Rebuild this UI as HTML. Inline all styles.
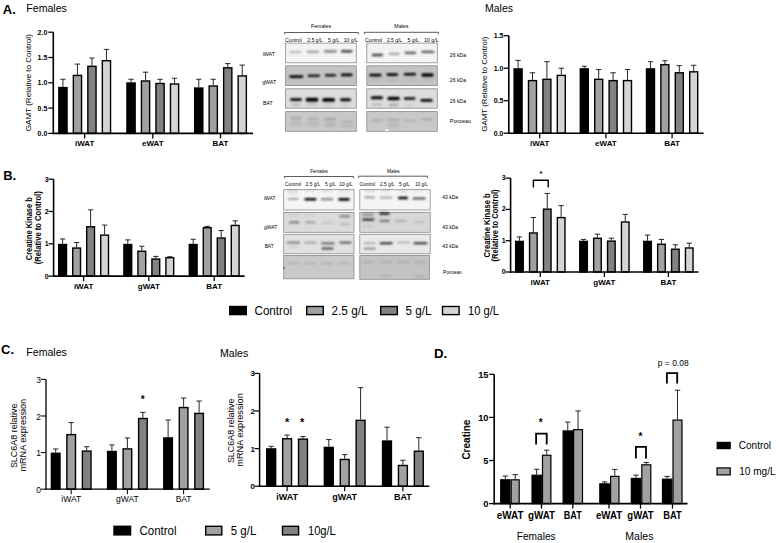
<!DOCTYPE html>
<html><head><meta charset="utf-8"><style>
html,body{margin:0;padding:0;background:#fff;width:779px;height:543px;overflow:hidden;}
body{position:relative;font-family:"Liberation Sans", sans-serif;}
</style></head><body>
<svg width="779" height="543" viewBox="0 0 779 543" style="position:absolute;left:0;top:0">
<defs><filter id="bl" x="-50%" y="-400%" width="200%" height="900%"><feGaussianBlur stdDeviation="1.0"/></filter><filter id="bl2" x="-50%" y="-400%" width="200%" height="900%"><feGaussianBlur stdDeviation="1.4"/></filter></defs>
<g font-family='"Liberation Sans", sans-serif'>
<text x="2.8" y="13.9" font-size="13" font-weight="bold" text-anchor="start" fill="#000">A.</text>
<text x="26.3" y="11.9" font-size="10.4" text-anchor="start" textLength="40.6" lengthAdjust="spacingAndGlyphs" fill="#000">Females</text>
<text x="485" y="11.8" font-size="10.5" text-anchor="start" textLength="28" lengthAdjust="spacingAndGlyphs" fill="#000">Males</text>
<line x1="62.95" y1="86.85" x2="62.95" y2="79.26" stroke="#111" stroke-width="0.90"/>
<line x1="60.30" y1="79.26" x2="65.60" y2="79.26" stroke="#111" stroke-width="0.90"/>
<rect x="58.85" y="87.55" width="8.20" height="45.85" fill="#000" stroke="#000" stroke-width="1.4"/>
<line x1="77.45" y1="74.70" x2="77.45" y2="64.08" stroke="#111" stroke-width="0.90"/>
<line x1="74.80" y1="64.08" x2="80.10" y2="64.08" stroke="#111" stroke-width="0.90"/>
<rect x="73.35" y="75.40" width="8.20" height="58.00" fill="#a0a0a5" stroke="#000" stroke-width="1.4"/>
<line x1="91.95" y1="65.60" x2="91.95" y2="58.01" stroke="#111" stroke-width="0.90"/>
<line x1="89.30" y1="58.01" x2="94.60" y2="58.01" stroke="#111" stroke-width="0.90"/>
<rect x="87.85" y="66.30" width="8.20" height="67.10" fill="#828282" stroke="#000" stroke-width="1.4"/>
<line x1="106.45" y1="60.03" x2="106.45" y2="49.40" stroke="#111" stroke-width="0.90"/>
<line x1="103.80" y1="49.40" x2="109.10" y2="49.40" stroke="#111" stroke-width="0.90"/>
<rect x="102.35" y="60.73" width="8.20" height="72.67" fill="#d4d4d4" stroke="#000" stroke-width="1.4"/>
<line x1="131.05" y1="82.29" x2="131.05" y2="79.26" stroke="#111" stroke-width="0.90"/>
<line x1="128.40" y1="79.26" x2="133.70" y2="79.26" stroke="#111" stroke-width="0.90"/>
<rect x="126.95" y="82.99" width="8.20" height="50.41" fill="#000" stroke="#000" stroke-width="1.4"/>
<line x1="145.55" y1="80.27" x2="145.55" y2="72.17" stroke="#111" stroke-width="0.90"/>
<line x1="142.90" y1="72.17" x2="148.20" y2="72.17" stroke="#111" stroke-width="0.90"/>
<rect x="141.45" y="80.97" width="8.20" height="52.43" fill="#a0a0a5" stroke="#000" stroke-width="1.4"/>
<line x1="160.05" y1="82.80" x2="160.05" y2="79.26" stroke="#111" stroke-width="0.90"/>
<line x1="157.40" y1="79.26" x2="162.70" y2="79.26" stroke="#111" stroke-width="0.90"/>
<rect x="155.95" y="83.50" width="8.20" height="49.90" fill="#828282" stroke="#000" stroke-width="1.4"/>
<line x1="174.55" y1="83.31" x2="174.55" y2="78.25" stroke="#111" stroke-width="0.90"/>
<line x1="171.90" y1="78.25" x2="177.20" y2="78.25" stroke="#111" stroke-width="0.90"/>
<rect x="170.45" y="84.01" width="8.20" height="49.39" fill="#d4d4d4" stroke="#000" stroke-width="1.4"/>
<line x1="198.75" y1="87.35" x2="198.75" y2="79.26" stroke="#111" stroke-width="0.90"/>
<line x1="196.10" y1="79.26" x2="201.40" y2="79.26" stroke="#111" stroke-width="0.90"/>
<rect x="194.65" y="88.05" width="8.20" height="45.35" fill="#000" stroke="#000" stroke-width="1.4"/>
<line x1="213.25" y1="85.33" x2="213.25" y2="79.26" stroke="#111" stroke-width="0.90"/>
<line x1="210.60" y1="79.26" x2="215.90" y2="79.26" stroke="#111" stroke-width="0.90"/>
<rect x="209.15" y="86.03" width="8.20" height="47.37" fill="#a0a0a5" stroke="#000" stroke-width="1.4"/>
<line x1="227.75" y1="67.11" x2="227.75" y2="63.57" stroke="#111" stroke-width="0.90"/>
<line x1="225.10" y1="63.57" x2="230.40" y2="63.57" stroke="#111" stroke-width="0.90"/>
<rect x="223.65" y="67.81" width="8.20" height="65.59" fill="#828282" stroke="#000" stroke-width="1.4"/>
<line x1="242.25" y1="75.21" x2="242.25" y2="65.09" stroke="#111" stroke-width="0.90"/>
<line x1="239.60" y1="65.09" x2="244.90" y2="65.09" stroke="#111" stroke-width="0.90"/>
<rect x="238.15" y="75.91" width="8.20" height="57.49" fill="#d4d4d4" stroke="#000" stroke-width="1.4"/>
<line x1="53.30" y1="32.20" x2="53.30" y2="134.20" stroke="#000" stroke-width="1.60"/>
<line x1="52.50" y1="133.40" x2="253.00" y2="133.40" stroke="#000" stroke-width="1.60"/>
<line x1="48.30" y1="133.40" x2="53.30" y2="133.40" stroke="#000" stroke-width="1.28"/>
<text x="47.3" y="135.9" font-size="7" font-weight="bold" text-anchor="end" fill="#000">0.0</text>
<line x1="48.30" y1="108.10" x2="53.30" y2="108.10" stroke="#000" stroke-width="1.28"/>
<text x="47.3" y="110.6" font-size="7" font-weight="bold" text-anchor="end" fill="#000">0.5</text>
<line x1="48.30" y1="82.80" x2="53.30" y2="82.80" stroke="#000" stroke-width="1.28"/>
<text x="47.3" y="85.3" font-size="7" font-weight="bold" text-anchor="end" fill="#000">1.0</text>
<line x1="48.30" y1="57.50" x2="53.30" y2="57.50" stroke="#000" stroke-width="1.28"/>
<text x="47.3" y="60.0" font-size="7" font-weight="bold" text-anchor="end" fill="#000">1.5</text>
<line x1="48.30" y1="32.20" x2="53.30" y2="32.20" stroke="#000" stroke-width="1.28"/>
<text x="47.3" y="34.7" font-size="7" font-weight="bold" text-anchor="end" fill="#000">2.0</text>
<line x1="84.70" y1="133.40" x2="84.70" y2="138.40" stroke="#000" stroke-width="1.28"/>
<text x="84.7" y="145.7" font-size="8" font-weight="bold" text-anchor="middle" fill="#000">iWAT</text>
<line x1="152.80" y1="133.40" x2="152.80" y2="138.40" stroke="#000" stroke-width="1.28"/>
<text x="152.8" y="145.7" font-size="8" font-weight="bold" text-anchor="middle" fill="#000">eWAT</text>
<line x1="220.50" y1="133.40" x2="220.50" y2="138.40" stroke="#000" stroke-width="1.28"/>
<text x="220.5" y="145.7" font-size="8" font-weight="bold" text-anchor="middle" fill="#000">BAT</text>
<text transform="translate(30.6,82.7) rotate(-90)" x="0" y="0" font-size="7.5" text-anchor="middle" textLength="97" lengthAdjust="spacingAndGlyphs" fill="#000">GAMT (Relative to Control)</text>
<line x1="518.10" y1="68.20" x2="518.10" y2="60.40" stroke="#111" stroke-width="0.90"/>
<line x1="515.45" y1="60.40" x2="520.75" y2="60.40" stroke="#111" stroke-width="0.90"/>
<rect x="514.10" y="68.90" width="8.00" height="64.30" fill="#000" stroke="#000" stroke-width="1.4"/>
<line x1="532.50" y1="79.90" x2="532.50" y2="72.75" stroke="#111" stroke-width="0.90"/>
<line x1="529.85" y1="72.75" x2="535.15" y2="72.75" stroke="#111" stroke-width="0.90"/>
<rect x="528.50" y="80.60" width="8.00" height="52.60" fill="#a0a0a5" stroke="#000" stroke-width="1.4"/>
<line x1="546.90" y1="78.60" x2="546.90" y2="61.70" stroke="#111" stroke-width="0.90"/>
<line x1="544.25" y1="61.70" x2="549.55" y2="61.70" stroke="#111" stroke-width="0.90"/>
<rect x="542.90" y="79.30" width="8.00" height="53.90" fill="#828282" stroke="#000" stroke-width="1.4"/>
<line x1="561.30" y1="74.70" x2="561.30" y2="68.20" stroke="#111" stroke-width="0.90"/>
<line x1="558.65" y1="68.20" x2="563.95" y2="68.20" stroke="#111" stroke-width="0.90"/>
<rect x="557.30" y="75.40" width="8.00" height="57.80" fill="#d4d4d4" stroke="#000" stroke-width="1.4"/>
<line x1="584.30" y1="68.20" x2="584.30" y2="66.25" stroke="#111" stroke-width="0.90"/>
<line x1="581.65" y1="66.25" x2="586.95" y2="66.25" stroke="#111" stroke-width="0.90"/>
<rect x="580.30" y="68.90" width="8.00" height="64.30" fill="#000" stroke="#000" stroke-width="1.4"/>
<line x1="598.70" y1="78.60" x2="598.70" y2="69.50" stroke="#111" stroke-width="0.90"/>
<line x1="596.05" y1="69.50" x2="601.35" y2="69.50" stroke="#111" stroke-width="0.90"/>
<rect x="594.70" y="79.30" width="8.00" height="53.90" fill="#a0a0a5" stroke="#000" stroke-width="1.4"/>
<line x1="613.10" y1="79.90" x2="613.10" y2="72.75" stroke="#111" stroke-width="0.90"/>
<line x1="610.45" y1="72.75" x2="615.75" y2="72.75" stroke="#111" stroke-width="0.90"/>
<rect x="609.10" y="80.60" width="8.00" height="52.60" fill="#828282" stroke="#000" stroke-width="1.4"/>
<line x1="627.50" y1="79.90" x2="627.50" y2="69.50" stroke="#111" stroke-width="0.90"/>
<line x1="624.85" y1="69.50" x2="630.15" y2="69.50" stroke="#111" stroke-width="0.90"/>
<rect x="623.50" y="80.60" width="8.00" height="52.60" fill="#d4d4d4" stroke="#000" stroke-width="1.4"/>
<line x1="650.50" y1="68.20" x2="650.50" y2="61.70" stroke="#111" stroke-width="0.90"/>
<line x1="647.85" y1="61.70" x2="653.15" y2="61.70" stroke="#111" stroke-width="0.90"/>
<rect x="646.50" y="68.90" width="8.00" height="64.30" fill="#000" stroke="#000" stroke-width="1.4"/>
<line x1="664.90" y1="63.97" x2="664.90" y2="60.72" stroke="#111" stroke-width="0.90"/>
<line x1="662.25" y1="60.72" x2="667.55" y2="60.72" stroke="#111" stroke-width="0.90"/>
<rect x="660.90" y="64.67" width="8.00" height="68.52" fill="#a0a0a5" stroke="#000" stroke-width="1.4"/>
<line x1="679.30" y1="72.10" x2="679.30" y2="65.60" stroke="#111" stroke-width="0.90"/>
<line x1="676.65" y1="65.60" x2="681.95" y2="65.60" stroke="#111" stroke-width="0.90"/>
<rect x="675.30" y="72.80" width="8.00" height="60.40" fill="#828282" stroke="#000" stroke-width="1.4"/>
<line x1="693.70" y1="71.12" x2="693.70" y2="65.27" stroke="#111" stroke-width="0.90"/>
<line x1="691.05" y1="65.27" x2="696.35" y2="65.27" stroke="#111" stroke-width="0.90"/>
<rect x="689.70" y="71.83" width="8.00" height="61.37" fill="#d4d4d4" stroke="#000" stroke-width="1.4"/>
<line x1="508.80" y1="35.70" x2="508.80" y2="134.00" stroke="#000" stroke-width="1.60"/>
<line x1="508.00" y1="133.20" x2="703.60" y2="133.20" stroke="#000" stroke-width="1.60"/>
<line x1="503.80" y1="133.20" x2="508.80" y2="133.20" stroke="#000" stroke-width="1.28"/>
<text x="503.5" y="135.7" font-size="7" font-weight="bold" text-anchor="end" fill="#000">0.0</text>
<line x1="503.80" y1="100.70" x2="508.80" y2="100.70" stroke="#000" stroke-width="1.28"/>
<text x="503.5" y="103.2" font-size="7" font-weight="bold" text-anchor="end" fill="#000">0.5</text>
<line x1="503.80" y1="68.20" x2="508.80" y2="68.20" stroke="#000" stroke-width="1.28"/>
<text x="503.5" y="70.7" font-size="7" font-weight="bold" text-anchor="end" fill="#000">1.0</text>
<line x1="503.80" y1="35.70" x2="508.80" y2="35.70" stroke="#000" stroke-width="1.28"/>
<text x="503.5" y="38.2" font-size="7" font-weight="bold" text-anchor="end" fill="#000">1.5</text>
<line x1="539.70" y1="133.20" x2="539.70" y2="138.20" stroke="#000" stroke-width="1.28"/>
<text x="539.7" y="145.7" font-size="8" font-weight="bold" text-anchor="middle" fill="#000">iWAT</text>
<line x1="605.90" y1="133.20" x2="605.90" y2="138.20" stroke="#000" stroke-width="1.28"/>
<text x="605.9" y="145.7" font-size="8" font-weight="bold" text-anchor="middle" fill="#000">eWAT</text>
<line x1="672.10" y1="133.20" x2="672.10" y2="138.20" stroke="#000" stroke-width="1.28"/>
<text x="672.1" y="145.7" font-size="8" font-weight="bold" text-anchor="middle" fill="#000">BAT</text>
<text transform="translate(486.5,84.2) rotate(-90)" x="0" y="0" font-size="7.5" text-anchor="middle" textLength="95" lengthAdjust="spacingAndGlyphs" fill="#000">GAMT (Relative to Control)</text>
<text x="3.2" y="180.4" font-size="13" font-weight="bold" text-anchor="start" fill="#000">B.</text>
<line x1="62.60" y1="243.80" x2="62.60" y2="238.96" stroke="#111" stroke-width="0.90"/>
<line x1="59.95" y1="238.96" x2="65.25" y2="238.96" stroke="#111" stroke-width="0.90"/>
<rect x="58.70" y="244.50" width="7.80" height="31.60" fill="#000" stroke="#000" stroke-width="1.4"/>
<line x1="76.60" y1="247.35" x2="76.60" y2="242.51" stroke="#111" stroke-width="0.90"/>
<line x1="73.95" y1="242.51" x2="79.25" y2="242.51" stroke="#111" stroke-width="0.90"/>
<rect x="72.70" y="248.05" width="7.80" height="28.05" fill="#a0a0a5" stroke="#000" stroke-width="1.4"/>
<line x1="90.60" y1="226.04" x2="90.60" y2="209.89" stroke="#111" stroke-width="0.90"/>
<line x1="87.95" y1="209.89" x2="93.25" y2="209.89" stroke="#111" stroke-width="0.90"/>
<rect x="86.70" y="226.74" width="7.80" height="49.36" fill="#828282" stroke="#000" stroke-width="1.4"/>
<line x1="104.60" y1="234.43" x2="104.60" y2="225.07" stroke="#111" stroke-width="0.90"/>
<line x1="101.95" y1="225.07" x2="107.25" y2="225.07" stroke="#111" stroke-width="0.90"/>
<rect x="100.70" y="235.13" width="7.80" height="40.97" fill="#d4d4d4" stroke="#000" stroke-width="1.4"/>
<line x1="127.80" y1="243.80" x2="127.80" y2="239.92" stroke="#111" stroke-width="0.90"/>
<line x1="125.15" y1="239.92" x2="130.45" y2="239.92" stroke="#111" stroke-width="0.90"/>
<rect x="123.90" y="244.50" width="7.80" height="31.60" fill="#000" stroke="#000" stroke-width="1.4"/>
<line x1="141.80" y1="250.58" x2="141.80" y2="246.22" stroke="#111" stroke-width="0.90"/>
<line x1="139.15" y1="246.22" x2="144.45" y2="246.22" stroke="#111" stroke-width="0.90"/>
<rect x="137.90" y="251.28" width="7.80" height="24.82" fill="#a0a0a5" stroke="#000" stroke-width="1.4"/>
<line x1="155.80" y1="258.34" x2="155.80" y2="256.40" stroke="#111" stroke-width="0.90"/>
<line x1="153.15" y1="256.40" x2="158.45" y2="256.40" stroke="#111" stroke-width="0.90"/>
<rect x="151.90" y="259.04" width="7.80" height="17.06" fill="#828282" stroke="#000" stroke-width="1.4"/>
<line x1="169.80" y1="257.04" x2="169.80" y2="256.72" stroke="#111" stroke-width="0.90"/>
<line x1="167.15" y1="256.72" x2="172.45" y2="256.72" stroke="#111" stroke-width="0.90"/>
<rect x="165.90" y="257.74" width="7.80" height="18.36" fill="#d4d4d4" stroke="#000" stroke-width="1.4"/>
<line x1="193.20" y1="243.80" x2="193.20" y2="239.28" stroke="#111" stroke-width="0.90"/>
<line x1="190.55" y1="239.28" x2="195.85" y2="239.28" stroke="#111" stroke-width="0.90"/>
<rect x="189.30" y="244.50" width="7.80" height="31.60" fill="#000" stroke="#000" stroke-width="1.4"/>
<line x1="207.20" y1="227.00" x2="207.20" y2="226.36" stroke="#111" stroke-width="0.90"/>
<line x1="204.55" y1="226.36" x2="209.85" y2="226.36" stroke="#111" stroke-width="0.90"/>
<rect x="203.30" y="227.70" width="7.80" height="48.40" fill="#a0a0a5" stroke="#000" stroke-width="1.4"/>
<line x1="221.20" y1="237.34" x2="221.20" y2="230.56" stroke="#111" stroke-width="0.90"/>
<line x1="218.55" y1="230.56" x2="223.85" y2="230.56" stroke="#111" stroke-width="0.90"/>
<rect x="217.30" y="238.04" width="7.80" height="38.06" fill="#828282" stroke="#000" stroke-width="1.4"/>
<line x1="235.20" y1="224.74" x2="235.20" y2="220.87" stroke="#111" stroke-width="0.90"/>
<line x1="232.55" y1="220.87" x2="237.85" y2="220.87" stroke="#111" stroke-width="0.90"/>
<rect x="231.30" y="225.44" width="7.80" height="50.66" fill="#d4d4d4" stroke="#000" stroke-width="1.4"/>
<line x1="53.60" y1="179.20" x2="53.60" y2="276.90" stroke="#000" stroke-width="1.60"/>
<line x1="52.80" y1="276.10" x2="244.60" y2="276.10" stroke="#000" stroke-width="1.60"/>
<line x1="48.60" y1="276.10" x2="53.60" y2="276.10" stroke="#000" stroke-width="1.28"/>
<text x="48.7" y="278.6" font-size="7" font-weight="bold" text-anchor="end" fill="#000">0</text>
<line x1="48.60" y1="243.80" x2="53.60" y2="243.80" stroke="#000" stroke-width="1.28"/>
<text x="48.7" y="246.3" font-size="7" font-weight="bold" text-anchor="end" fill="#000">1</text>
<line x1="48.60" y1="211.50" x2="53.60" y2="211.50" stroke="#000" stroke-width="1.28"/>
<text x="48.7" y="214.0" font-size="7" font-weight="bold" text-anchor="end" fill="#000">2</text>
<line x1="48.60" y1="179.20" x2="53.60" y2="179.20" stroke="#000" stroke-width="1.28"/>
<text x="48.7" y="181.7" font-size="7" font-weight="bold" text-anchor="end" fill="#000">3</text>
<line x1="83.60" y1="276.10" x2="83.60" y2="281.10" stroke="#000" stroke-width="1.28"/>
<text x="83.6" y="288.5" font-size="8" font-weight="bold" text-anchor="middle" fill="#000">iWAT</text>
<line x1="148.80" y1="276.10" x2="148.80" y2="281.10" stroke="#000" stroke-width="1.28"/>
<text x="148.8" y="288.5" font-size="8" font-weight="bold" text-anchor="middle" fill="#000">gWAT</text>
<line x1="214.20" y1="276.10" x2="214.20" y2="281.10" stroke="#000" stroke-width="1.28"/>
<text x="214.2" y="288.5" font-size="8" font-weight="bold" text-anchor="middle" fill="#000">BAT</text>
<text transform="translate(31.9,228.7) rotate(-90)" x="0" y="0" font-size="8.3" font-weight="bold" text-anchor="middle" textLength="63" lengthAdjust="spacingAndGlyphs" fill="#000">Creatine Kinase b</text>
<text transform="translate(40.7,227.7) rotate(-90)" x="0" y="0" font-size="8.3" font-weight="bold" text-anchor="middle" textLength="73" lengthAdjust="spacingAndGlyphs" fill="#000">(Relative to Control)</text>
<line x1="519.45" y1="240.70" x2="519.45" y2="236.94" stroke="#111" stroke-width="0.90"/>
<line x1="516.80" y1="236.94" x2="522.10" y2="236.94" stroke="#111" stroke-width="0.90"/>
<rect x="515.65" y="241.40" width="7.60" height="30.60" fill="#000" stroke="#000" stroke-width="1.4"/>
<line x1="533.35" y1="232.25" x2="533.35" y2="217.54" stroke="#111" stroke-width="0.90"/>
<line x1="530.70" y1="217.54" x2="536.00" y2="217.54" stroke="#111" stroke-width="0.90"/>
<rect x="529.55" y="232.95" width="7.60" height="39.05" fill="#a0a0a5" stroke="#000" stroke-width="1.4"/>
<line x1="547.25" y1="208.46" x2="547.25" y2="193.44" stroke="#111" stroke-width="0.90"/>
<line x1="544.60" y1="193.44" x2="549.90" y2="193.44" stroke="#111" stroke-width="0.90"/>
<rect x="543.45" y="209.16" width="7.60" height="62.84" fill="#828282" stroke="#000" stroke-width="1.4"/>
<line x1="561.15" y1="216.91" x2="561.15" y2="205.64" stroke="#111" stroke-width="0.90"/>
<line x1="558.50" y1="205.64" x2="563.80" y2="205.64" stroke="#111" stroke-width="0.90"/>
<rect x="557.35" y="217.61" width="7.60" height="54.39" fill="#d4d4d4" stroke="#000" stroke-width="1.4"/>
<line x1="583.55" y1="240.70" x2="583.55" y2="239.45" stroke="#111" stroke-width="0.90"/>
<line x1="580.90" y1="239.45" x2="586.20" y2="239.45" stroke="#111" stroke-width="0.90"/>
<rect x="579.75" y="241.40" width="7.60" height="30.60" fill="#000" stroke="#000" stroke-width="1.4"/>
<line x1="597.45" y1="237.57" x2="597.45" y2="234.13" stroke="#111" stroke-width="0.90"/>
<line x1="594.80" y1="234.13" x2="600.10" y2="234.13" stroke="#111" stroke-width="0.90"/>
<rect x="593.65" y="238.27" width="7.60" height="33.73" fill="#a0a0a5" stroke="#000" stroke-width="1.4"/>
<line x1="611.35" y1="240.39" x2="611.35" y2="238.20" stroke="#111" stroke-width="0.90"/>
<line x1="608.70" y1="238.20" x2="614.00" y2="238.20" stroke="#111" stroke-width="0.90"/>
<rect x="607.55" y="241.09" width="7.60" height="30.91" fill="#828282" stroke="#000" stroke-width="1.4"/>
<line x1="625.25" y1="221.29" x2="625.25" y2="214.41" stroke="#111" stroke-width="0.90"/>
<line x1="622.60" y1="214.41" x2="627.90" y2="214.41" stroke="#111" stroke-width="0.90"/>
<rect x="621.45" y="221.99" width="7.60" height="50.01" fill="#d4d4d4" stroke="#000" stroke-width="1.4"/>
<line x1="647.55" y1="240.70" x2="647.55" y2="235.07" stroke="#111" stroke-width="0.90"/>
<line x1="644.90" y1="235.07" x2="650.20" y2="235.07" stroke="#111" stroke-width="0.90"/>
<rect x="643.75" y="241.40" width="7.60" height="30.60" fill="#000" stroke="#000" stroke-width="1.4"/>
<line x1="661.45" y1="243.52" x2="661.45" y2="239.45" stroke="#111" stroke-width="0.90"/>
<line x1="658.80" y1="239.45" x2="664.10" y2="239.45" stroke="#111" stroke-width="0.90"/>
<rect x="657.65" y="244.22" width="7.60" height="27.78" fill="#a0a0a5" stroke="#000" stroke-width="1.4"/>
<line x1="675.35" y1="248.53" x2="675.35" y2="244.77" stroke="#111" stroke-width="0.90"/>
<line x1="672.70" y1="244.77" x2="678.00" y2="244.77" stroke="#111" stroke-width="0.90"/>
<rect x="671.55" y="249.22" width="7.60" height="22.77" fill="#828282" stroke="#000" stroke-width="1.4"/>
<line x1="689.25" y1="247.27" x2="689.25" y2="243.20" stroke="#111" stroke-width="0.90"/>
<line x1="686.60" y1="243.20" x2="691.90" y2="243.20" stroke="#111" stroke-width="0.90"/>
<rect x="685.45" y="247.97" width="7.60" height="24.03" fill="#d4d4d4" stroke="#000" stroke-width="1.4"/>
<line x1="510.60" y1="178.10" x2="510.60" y2="272.80" stroke="#000" stroke-width="1.60"/>
<line x1="509.80" y1="272.00" x2="698.60" y2="272.00" stroke="#000" stroke-width="1.60"/>
<line x1="505.60" y1="272.00" x2="510.60" y2="272.00" stroke="#000" stroke-width="1.28"/>
<text x="505.6" y="274.0" font-size="7" font-weight="bold" text-anchor="end" fill="#000">0</text>
<line x1="505.60" y1="240.70" x2="510.60" y2="240.70" stroke="#000" stroke-width="1.28"/>
<text x="505.6" y="242.7" font-size="7" font-weight="bold" text-anchor="end" fill="#000">1</text>
<line x1="505.60" y1="209.40" x2="510.60" y2="209.40" stroke="#000" stroke-width="1.28"/>
<text x="505.6" y="211.4" font-size="7" font-weight="bold" text-anchor="end" fill="#000">2</text>
<line x1="505.60" y1="178.10" x2="510.60" y2="178.10" stroke="#000" stroke-width="1.28"/>
<text x="505.6" y="180.1" font-size="7" font-weight="bold" text-anchor="end" fill="#000">3</text>
<line x1="540.30" y1="272.00" x2="540.30" y2="277.00" stroke="#000" stroke-width="1.28"/>
<text x="540.3" y="284.5" font-size="8" font-weight="bold" text-anchor="middle" fill="#000">iWAT</text>
<line x1="604.40" y1="272.00" x2="604.40" y2="277.00" stroke="#000" stroke-width="1.28"/>
<text x="604.4" y="284.5" font-size="8" font-weight="bold" text-anchor="middle" fill="#000">gWAT</text>
<line x1="668.40" y1="272.00" x2="668.40" y2="277.00" stroke="#000" stroke-width="1.28"/>
<text x="668.4" y="284.5" font-size="8" font-weight="bold" text-anchor="middle" fill="#000">BAT</text>
<text transform="translate(490.2,225.4) rotate(-90)" x="0" y="0" font-size="8.3" font-weight="bold" text-anchor="middle" textLength="64" lengthAdjust="spacingAndGlyphs" fill="#000">Creatine Kinase b</text>
<text transform="translate(498.2,225.4) rotate(-90)" x="0" y="0" font-size="8.3" font-weight="bold" text-anchor="middle" textLength="72" lengthAdjust="spacingAndGlyphs" fill="#000">(Relative to Control)</text>
<path d="M533.4 187.6 V180.3 H548.2 V187.6" fill="none" stroke="#000" stroke-width="1.4"/>
<text x="541" y="176.2" font-size="7.5" font-weight="bold" text-anchor="middle" fill="#000">*</text>
<rect x="229.70" y="306.50" width="16.60" height="8.10" fill="#000" stroke="#000" stroke-width="1.4"/>
<text x="254.5" y="315.2" font-size="12.5" text-anchor="start" textLength="37.5" lengthAdjust="spacingAndGlyphs" fill="#000">Control</text>
<rect x="306.70" y="306.50" width="16.60" height="8.10" fill="#a0a0a5" stroke="#000" stroke-width="1.4"/>
<text x="331.5" y="315.2" font-size="12.5" text-anchor="start" textLength="36" lengthAdjust="spacingAndGlyphs" fill="#000">2.5 g/L</text>
<rect x="380.70" y="306.50" width="16.60" height="8.10" fill="#828282" stroke="#000" stroke-width="1.4"/>
<text x="405.5" y="315.2" font-size="12.5" text-anchor="start" textLength="26" lengthAdjust="spacingAndGlyphs" fill="#000">5 g/L</text>
<rect x="442.50" y="306.50" width="16.60" height="8.10" fill="#d4d4d4" stroke="#000" stroke-width="1.4"/>
<text x="468" y="315.2" font-size="12.5" text-anchor="start" textLength="31" lengthAdjust="spacingAndGlyphs" fill="#000">10 g/L</text>
<text x="1.0" y="354.4" font-size="13" font-weight="bold" text-anchor="start" fill="#000">C.</text>
<text x="26.3" y="355.7" font-size="10.5" text-anchor="start" textLength="40.6" lengthAdjust="spacingAndGlyphs" fill="#000">Females</text>
<text x="220" y="357" font-size="10.5" text-anchor="start" textLength="28.2" lengthAdjust="spacingAndGlyphs" fill="#000">Males</text>
<line x1="55.70" y1="452.60" x2="55.70" y2="448.94" stroke="#111" stroke-width="0.90"/>
<line x1="53.05" y1="448.94" x2="58.35" y2="448.94" stroke="#111" stroke-width="0.90"/>
<rect x="51.40" y="453.30" width="8.60" height="35.90" fill="#000" stroke="#000" stroke-width="1.4"/>
<line x1="71.20" y1="433.93" x2="71.20" y2="422.59" stroke="#111" stroke-width="0.90"/>
<line x1="68.55" y1="422.59" x2="73.85" y2="422.59" stroke="#111" stroke-width="0.90"/>
<rect x="66.90" y="434.63" width="8.60" height="54.57" fill="#a0a0a5" stroke="#000" stroke-width="1.4"/>
<line x1="86.70" y1="450.40" x2="86.70" y2="446.74" stroke="#111" stroke-width="0.90"/>
<line x1="84.05" y1="446.74" x2="89.35" y2="446.74" stroke="#111" stroke-width="0.90"/>
<rect x="82.40" y="451.10" width="8.60" height="38.10" fill="#828282" stroke="#000" stroke-width="1.4"/>
<line x1="111.90" y1="450.77" x2="111.90" y2="444.91" stroke="#111" stroke-width="0.90"/>
<line x1="109.25" y1="444.91" x2="114.55" y2="444.91" stroke="#111" stroke-width="0.90"/>
<rect x="107.60" y="451.47" width="8.60" height="37.73" fill="#000" stroke="#000" stroke-width="1.4"/>
<line x1="127.40" y1="448.21" x2="127.40" y2="437.96" stroke="#111" stroke-width="0.90"/>
<line x1="124.75" y1="437.96" x2="130.05" y2="437.96" stroke="#111" stroke-width="0.90"/>
<rect x="123.10" y="448.91" width="8.60" height="40.29" fill="#a0a0a5" stroke="#000" stroke-width="1.4"/>
<line x1="142.90" y1="417.83" x2="142.90" y2="412.34" stroke="#111" stroke-width="0.90"/>
<line x1="140.25" y1="412.34" x2="145.55" y2="412.34" stroke="#111" stroke-width="0.90"/>
<rect x="138.60" y="418.53" width="8.60" height="70.67" fill="#828282" stroke="#000" stroke-width="1.4"/>
<line x1="168.10" y1="437.23" x2="168.10" y2="420.03" stroke="#111" stroke-width="0.90"/>
<line x1="165.45" y1="420.03" x2="170.75" y2="420.03" stroke="#111" stroke-width="0.90"/>
<rect x="163.80" y="437.93" width="8.60" height="51.27" fill="#000" stroke="#000" stroke-width="1.4"/>
<line x1="183.60" y1="406.85" x2="183.60" y2="398.07" stroke="#111" stroke-width="0.90"/>
<line x1="180.95" y1="398.07" x2="186.25" y2="398.07" stroke="#111" stroke-width="0.90"/>
<rect x="179.30" y="407.55" width="8.60" height="81.65" fill="#a0a0a5" stroke="#000" stroke-width="1.4"/>
<line x1="199.10" y1="412.71" x2="199.10" y2="400.99" stroke="#111" stroke-width="0.90"/>
<line x1="196.45" y1="400.99" x2="201.75" y2="400.99" stroke="#111" stroke-width="0.90"/>
<rect x="194.80" y="413.41" width="8.60" height="75.79" fill="#828282" stroke="#000" stroke-width="1.4"/>
<line x1="46.00" y1="379.40" x2="46.00" y2="489.85" stroke="#000" stroke-width="1.30"/>
<line x1="45.35" y1="489.20" x2="209.80" y2="489.20" stroke="#000" stroke-width="1.30"/>
<line x1="41.00" y1="489.20" x2="46.00" y2="489.20" stroke="#000" stroke-width="1.04"/>
<text x="41.0" y="492.8" font-size="8.5" text-anchor="end" fill="#000">0</text>
<line x1="41.00" y1="452.60" x2="46.00" y2="452.60" stroke="#000" stroke-width="1.04"/>
<text x="41.0" y="456.2" font-size="8.5" text-anchor="end" fill="#000">1</text>
<line x1="41.00" y1="416.00" x2="46.00" y2="416.00" stroke="#000" stroke-width="1.04"/>
<text x="41.0" y="419.6" font-size="8.5" text-anchor="end" fill="#000">2</text>
<line x1="41.00" y1="379.40" x2="46.00" y2="379.40" stroke="#000" stroke-width="1.04"/>
<text x="41.0" y="383.0" font-size="8.5" text-anchor="end" fill="#000">3</text>
<line x1="71.20" y1="489.20" x2="71.20" y2="494.20" stroke="#000" stroke-width="1.04"/>
<text x="71.2" y="501.9" font-size="8.5" text-anchor="middle" fill="#000">iWAT</text>
<line x1="127.40" y1="489.20" x2="127.40" y2="494.20" stroke="#000" stroke-width="1.04"/>
<text x="127.4" y="501.9" font-size="8.5" text-anchor="middle" fill="#000">gWAT</text>
<line x1="183.60" y1="489.20" x2="183.60" y2="494.20" stroke="#000" stroke-width="1.04"/>
<text x="183.6" y="501.9" font-size="8.5" text-anchor="middle" fill="#000">BAT</text>
<text transform="translate(17.0,435.8) rotate(-90)" x="0" y="0" font-size="9" text-anchor="middle" textLength="64.6" lengthAdjust="spacingAndGlyphs" fill="#000">SLC6A8 relative</text>
<text transform="translate(26.2,435.2) rotate(-90)" x="0" y="0" font-size="9" text-anchor="middle" textLength="72.7" lengthAdjust="spacingAndGlyphs" fill="#000">mRNA expression</text>
<text x="142.7" y="402.6" font-size="10" font-weight="bold" text-anchor="middle" fill="#000">*</text>
<line x1="271.20" y1="448.22" x2="271.20" y2="446.34" stroke="#111" stroke-width="0.90"/>
<line x1="268.55" y1="446.34" x2="273.85" y2="446.34" stroke="#111" stroke-width="0.90"/>
<rect x="266.75" y="448.92" width="8.90" height="37.28" fill="#000" stroke="#000" stroke-width="1.4"/>
<line x1="287.10" y1="438.07" x2="287.10" y2="435.06" stroke="#111" stroke-width="0.90"/>
<line x1="284.45" y1="435.06" x2="289.75" y2="435.06" stroke="#111" stroke-width="0.90"/>
<rect x="282.65" y="438.77" width="8.90" height="47.43" fill="#a0a0a5" stroke="#000" stroke-width="1.4"/>
<line x1="303.00" y1="438.45" x2="303.00" y2="436.57" stroke="#111" stroke-width="0.90"/>
<line x1="300.35" y1="436.57" x2="305.65" y2="436.57" stroke="#111" stroke-width="0.90"/>
<rect x="298.55" y="439.15" width="8.90" height="47.05" fill="#828282" stroke="#000" stroke-width="1.4"/>
<line x1="328.80" y1="446.72" x2="328.80" y2="439.58" stroke="#111" stroke-width="0.90"/>
<line x1="326.15" y1="439.58" x2="331.45" y2="439.58" stroke="#111" stroke-width="0.90"/>
<rect x="324.35" y="447.42" width="8.90" height="38.78" fill="#000" stroke="#000" stroke-width="1.4"/>
<line x1="344.70" y1="458.75" x2="344.70" y2="454.62" stroke="#111" stroke-width="0.90"/>
<line x1="342.05" y1="454.62" x2="347.35" y2="454.62" stroke="#111" stroke-width="0.90"/>
<rect x="340.25" y="459.45" width="8.90" height="26.75" fill="#a0a0a5" stroke="#000" stroke-width="1.4"/>
<line x1="360.60" y1="419.65" x2="360.60" y2="387.69" stroke="#111" stroke-width="0.90"/>
<line x1="357.95" y1="387.69" x2="363.25" y2="387.69" stroke="#111" stroke-width="0.90"/>
<rect x="356.15" y="420.35" width="8.90" height="65.85" fill="#828282" stroke="#000" stroke-width="1.4"/>
<line x1="387.00" y1="440.33" x2="387.00" y2="427.17" stroke="#111" stroke-width="0.90"/>
<line x1="384.35" y1="427.17" x2="389.65" y2="427.17" stroke="#111" stroke-width="0.90"/>
<rect x="382.55" y="441.03" width="8.90" height="45.17" fill="#000" stroke="#000" stroke-width="1.4"/>
<line x1="402.90" y1="464.77" x2="402.90" y2="460.26" stroke="#111" stroke-width="0.90"/>
<line x1="400.25" y1="460.26" x2="405.55" y2="460.26" stroke="#111" stroke-width="0.90"/>
<rect x="398.45" y="465.47" width="8.90" height="20.73" fill="#a0a0a5" stroke="#000" stroke-width="1.4"/>
<line x1="418.80" y1="450.48" x2="418.80" y2="437.70" stroke="#111" stroke-width="0.90"/>
<line x1="416.15" y1="437.70" x2="421.45" y2="437.70" stroke="#111" stroke-width="0.90"/>
<rect x="414.35" y="451.18" width="8.90" height="35.02" fill="#828282" stroke="#000" stroke-width="1.4"/>
<line x1="259.60" y1="373.40" x2="259.60" y2="486.95" stroke="#000" stroke-width="1.50"/>
<line x1="258.85" y1="486.20" x2="429.40" y2="486.20" stroke="#000" stroke-width="1.50"/>
<line x1="254.60" y1="486.20" x2="259.60" y2="486.20" stroke="#000" stroke-width="1.20"/>
<text x="255" y="489.2" font-size="8" font-weight="bold" text-anchor="end" fill="#000">0</text>
<line x1="254.60" y1="448.60" x2="259.60" y2="448.60" stroke="#000" stroke-width="1.20"/>
<text x="255" y="451.6" font-size="8" font-weight="bold" text-anchor="end" fill="#000">1</text>
<line x1="254.60" y1="411.00" x2="259.60" y2="411.00" stroke="#000" stroke-width="1.20"/>
<text x="255" y="414.0" font-size="8" font-weight="bold" text-anchor="end" fill="#000">2</text>
<line x1="254.60" y1="373.40" x2="259.60" y2="373.40" stroke="#000" stroke-width="1.20"/>
<text x="255" y="376.4" font-size="8" font-weight="bold" text-anchor="end" fill="#000">3</text>
<line x1="287.10" y1="486.20" x2="287.10" y2="491.20" stroke="#000" stroke-width="1.20"/>
<text x="287.1" y="499.5" font-size="9" font-weight="bold" text-anchor="middle" fill="#000">iWAT</text>
<line x1="344.70" y1="486.20" x2="344.70" y2="491.20" stroke="#000" stroke-width="1.20"/>
<text x="344.7" y="499.5" font-size="9" font-weight="bold" text-anchor="middle" fill="#000">gWAT</text>
<line x1="402.90" y1="486.20" x2="402.90" y2="491.20" stroke="#000" stroke-width="1.20"/>
<text x="402.9" y="499.5" font-size="9" font-weight="bold" text-anchor="middle" fill="#000">BAT</text>
<text transform="translate(233.9,430.8) rotate(-90)" x="0" y="0" font-size="9" text-anchor="middle" textLength="64.6" lengthAdjust="spacingAndGlyphs" fill="#000">SLC6A8 relative</text>
<text transform="translate(243.3,430.0) rotate(-90)" x="0" y="0" font-size="9" text-anchor="middle" textLength="73.5" lengthAdjust="spacingAndGlyphs" fill="#000">mRNA expression</text>
<text x="287.1" y="425.9" font-size="11" font-weight="bold" text-anchor="middle" fill="#000">*</text>
<text x="302.1" y="425.9" font-size="11" font-weight="bold" text-anchor="middle" fill="#000">*</text>
<rect x="114.00" y="526.30" width="16.60" height="8.60" fill="#000" stroke="#000" stroke-width="1.4"/>
<text x="139.5" y="534.7" font-size="12" text-anchor="start" textLength="37" lengthAdjust="spacingAndGlyphs" fill="#000">Control</text>
<rect x="205.70" y="526.30" width="16.10" height="8.60" fill="#a0a0a5" stroke="#000" stroke-width="1.4"/>
<text x="230.8" y="534.7" font-size="12" text-anchor="start" textLength="25.5" lengthAdjust="spacingAndGlyphs" fill="#000">5 g/L</text>
<rect x="282.50" y="526.30" width="16.10" height="8.60" fill="#828282" stroke="#000" stroke-width="1.4"/>
<text x="308" y="534.7" font-size="12" text-anchor="start" textLength="27.8" lengthAdjust="spacingAndGlyphs" fill="#000">10g/L</text>
<text x="434.0" y="358.2" font-size="13.3" font-weight="bold" text-anchor="start" fill="#000">D.</text>
<line x1="505.35" y1="479.21" x2="505.35" y2="476.02" stroke="#111" stroke-width="0.90"/>
<line x1="502.65" y1="476.02" x2="508.05" y2="476.02" stroke="#111" stroke-width="0.90"/>
<rect x="500.70" y="479.81" width="9.30" height="23.79" fill="#000" stroke="#000" stroke-width="1.2"/>
<line x1="515.20" y1="479.21" x2="515.20" y2="474.64" stroke="#111" stroke-width="0.90"/>
<line x1="512.50" y1="474.64" x2="517.90" y2="474.64" stroke="#111" stroke-width="0.90"/>
<rect x="511.20" y="479.81" width="8.00" height="23.79" fill="#a0a0a5" stroke="#000" stroke-width="1.2"/>
<line x1="536.65" y1="474.64" x2="536.65" y2="469.29" stroke="#111" stroke-width="0.90"/>
<line x1="533.95" y1="469.29" x2="539.35" y2="469.29" stroke="#111" stroke-width="0.90"/>
<rect x="532.00" y="475.24" width="9.30" height="28.36" fill="#000" stroke="#000" stroke-width="1.2"/>
<line x1="546.70" y1="454.64" x2="546.70" y2="450.16" stroke="#111" stroke-width="0.90"/>
<line x1="544.00" y1="450.16" x2="549.40" y2="450.16" stroke="#111" stroke-width="0.90"/>
<rect x="542.50" y="455.24" width="8.40" height="48.36" fill="#a0a0a5" stroke="#000" stroke-width="1.2"/>
<line x1="567.75" y1="430.33" x2="567.75" y2="422.14" stroke="#111" stroke-width="0.90"/>
<line x1="565.05" y1="422.14" x2="570.45" y2="422.14" stroke="#111" stroke-width="0.90"/>
<rect x="563.10" y="430.93" width="9.30" height="72.67" fill="#000" stroke="#000" stroke-width="1.2"/>
<line x1="578.05" y1="429.04" x2="578.05" y2="410.94" stroke="#111" stroke-width="0.90"/>
<line x1="575.35" y1="410.94" x2="580.75" y2="410.94" stroke="#111" stroke-width="0.90"/>
<rect x="573.60" y="429.64" width="8.90" height="73.96" fill="#a0a0a5" stroke="#000" stroke-width="1.2"/>
<line x1="604.60" y1="483.26" x2="604.60" y2="481.88" stroke="#111" stroke-width="0.90"/>
<line x1="601.90" y1="481.88" x2="607.30" y2="481.88" stroke="#111" stroke-width="0.90"/>
<rect x="599.80" y="483.86" width="9.60" height="19.74" fill="#000" stroke="#000" stroke-width="1.2"/>
<line x1="614.80" y1="475.76" x2="614.80" y2="469.38" stroke="#111" stroke-width="0.90"/>
<line x1="612.10" y1="469.38" x2="617.50" y2="469.38" stroke="#111" stroke-width="0.90"/>
<rect x="610.60" y="476.36" width="8.40" height="27.24" fill="#a0a0a5" stroke="#000" stroke-width="1.2"/>
<line x1="635.95" y1="477.83" x2="635.95" y2="475.15" stroke="#111" stroke-width="0.90"/>
<line x1="633.25" y1="475.15" x2="638.65" y2="475.15" stroke="#111" stroke-width="0.90"/>
<rect x="631.30" y="478.43" width="9.30" height="25.17" fill="#000" stroke="#000" stroke-width="1.2"/>
<line x1="646.30" y1="464.21" x2="646.30" y2="462.48" stroke="#111" stroke-width="0.90"/>
<line x1="643.60" y1="462.48" x2="649.00" y2="462.48" stroke="#111" stroke-width="0.90"/>
<rect x="641.80" y="464.81" width="9.00" height="38.79" fill="#a0a0a5" stroke="#000" stroke-width="1.2"/>
<line x1="667.15" y1="478.60" x2="667.15" y2="476.36" stroke="#111" stroke-width="0.90"/>
<line x1="664.45" y1="476.36" x2="669.85" y2="476.36" stroke="#111" stroke-width="0.90"/>
<rect x="662.50" y="479.20" width="9.30" height="24.40" fill="#000" stroke="#000" stroke-width="1.2"/>
<line x1="677.50" y1="419.47" x2="677.50" y2="390.25" stroke="#111" stroke-width="0.90"/>
<line x1="674.80" y1="390.25" x2="680.20" y2="390.25" stroke="#111" stroke-width="0.90"/>
<rect x="673.00" y="420.07" width="9.00" height="83.53" fill="#a0a0a5" stroke="#000" stroke-width="1.2"/>
<line x1="494.20" y1="374.30" x2="494.20" y2="504.40" stroke="#000" stroke-width="1.60"/>
<line x1="493.40" y1="503.60" x2="687.60" y2="503.60" stroke="#000" stroke-width="1.60"/>
<line x1="489.20" y1="503.60" x2="494.20" y2="503.60" stroke="#000" stroke-width="1.30"/>
<text x="488.5" y="506.9" font-size="9.3" font-weight="bold" text-anchor="end" fill="#000">0</text>
<line x1="489.20" y1="460.50" x2="494.20" y2="460.50" stroke="#000" stroke-width="1.30"/>
<text x="488.5" y="463.8" font-size="9.3" font-weight="bold" text-anchor="end" fill="#000">5</text>
<line x1="489.20" y1="417.40" x2="494.20" y2="417.40" stroke="#000" stroke-width="1.30"/>
<text x="488.5" y="420.7" font-size="9.3" font-weight="bold" text-anchor="end" fill="#000">10</text>
<line x1="489.20" y1="374.30" x2="494.20" y2="374.30" stroke="#000" stroke-width="1.30"/>
<text x="488.5" y="377.6" font-size="9.3" font-weight="bold" text-anchor="end" fill="#000">15</text>
<line x1="510.20" y1="503.60" x2="510.20" y2="508.60" stroke="#000" stroke-width="1.30"/>
<text x="510.2" y="519.2" font-size="10" font-weight="bold" text-anchor="middle" textLength="26.7" lengthAdjust="spacingAndGlyphs" fill="#000">eWAT</text>
<line x1="541.50" y1="503.60" x2="541.50" y2="508.60" stroke="#000" stroke-width="1.30"/>
<text x="541.5" y="519.2" font-size="10" font-weight="bold" text-anchor="middle" textLength="27" lengthAdjust="spacingAndGlyphs" fill="#000">gWAT</text>
<line x1="572.80" y1="503.60" x2="572.80" y2="508.60" stroke="#000" stroke-width="1.30"/>
<text x="572.8" y="519.2" font-size="10" font-weight="bold" text-anchor="middle" textLength="18" lengthAdjust="spacingAndGlyphs" fill="#000">BAT</text>
<line x1="609.00" y1="503.60" x2="609.00" y2="508.60" stroke="#000" stroke-width="1.30"/>
<text x="609.0" y="519.2" font-size="10" font-weight="bold" text-anchor="middle" textLength="26.2" lengthAdjust="spacingAndGlyphs" fill="#000">eWAT</text>
<line x1="640.50" y1="503.60" x2="640.50" y2="508.60" stroke="#000" stroke-width="1.30"/>
<text x="640.5" y="519.2" font-size="10" font-weight="bold" text-anchor="middle" textLength="26.3" lengthAdjust="spacingAndGlyphs" fill="#000">gWAT</text>
<line x1="672.50" y1="503.60" x2="672.50" y2="508.60" stroke="#000" stroke-width="1.30"/>
<text x="672.5" y="519.2" font-size="10" font-weight="bold" text-anchor="middle" textLength="18.5" lengthAdjust="spacingAndGlyphs" fill="#000">BAT</text>
<text x="536.2" y="540" font-size="10" text-anchor="middle" textLength="39" lengthAdjust="spacingAndGlyphs" fill="#000">Females</text>
<text x="639.4" y="540" font-size="10" text-anchor="middle" textLength="28.2" lengthAdjust="spacingAndGlyphs" fill="#000">Males</text>
<text transform="translate(469.6,439.6) rotate(-90)" x="0" y="0" font-size="10" font-weight="bold" text-anchor="middle" textLength="40" lengthAdjust="spacingAndGlyphs" fill="#000">Creatine</text>
<path d="M536.1 444.6 V433.7 H546.7 V444.6" fill="none" stroke="#000" stroke-width="1.8"/>
<path d="M635.9 458.5 V446.9 H646 V458.5" fill="none" stroke="#000" stroke-width="1.8"/>
<path d="M666.9 383.4 V373.1 H677.2 V383.4" fill="none" stroke="#000" stroke-width="1.8"/>
<text x="540.7" y="426.1" font-size="10" font-weight="bold" text-anchor="middle" fill="#000">*</text>
<text x="640.5" y="440.2" font-size="10" font-weight="bold" text-anchor="middle" fill="#000">*</text>
<text x="673.2" y="366" font-size="9" text-anchor="middle" textLength="30.8" lengthAdjust="spacingAndGlyphs" fill="#000">p = 0.08</text>
<rect x="717.20" y="442.40" width="13.00" height="6.20" fill="#000" stroke="#000" stroke-width="1.2"/>
<text x="738.8" y="449.1" font-size="10.3" text-anchor="start" textLength="32.3" lengthAdjust="spacingAndGlyphs" fill="#000">Control</text>
<rect x="717.00" y="467.90" width="13.20" height="7.00" fill="#a0a0a5" stroke="#000" stroke-width="1.2"/>
<text x="739.2" y="474.8" font-size="10.3" text-anchor="start" textLength="36.4" lengthAdjust="spacingAndGlyphs" fill="#000">10 mg/L</text>
<text x="321" y="28.3" font-size="5.6" text-anchor="middle" textLength="20" lengthAdjust="spacingAndGlyphs" fill="#000">Females</text>
<text x="401.3" y="28.0" font-size="5.6" text-anchor="middle" textLength="14" lengthAdjust="spacingAndGlyphs" fill="#000">Males</text>
<path d="M284.6 34.4 V32.5 H358.4 V34.4" fill="none" stroke="#333" stroke-width="0.8"/>
<path d="M364.4 34.199999999999996 V32.3 H438.5 V34.199999999999996" fill="none" stroke="#333" stroke-width="0.8"/>
<text x="293.4" y="41.8" font-size="5.6" text-anchor="middle" textLength="16.8" lengthAdjust="spacingAndGlyphs" fill="#000">Control</text>
<text x="314.9" y="41.8" font-size="5.6" text-anchor="middle" textLength="15.4" lengthAdjust="spacingAndGlyphs" fill="#000">2.5 g/L</text>
<text x="333.65" y="41.8" font-size="5.6" text-anchor="middle" textLength="11.3" lengthAdjust="spacingAndGlyphs" fill="#000">5 g/L</text>
<text x="350.75" y="41.8" font-size="5.6" text-anchor="middle" textLength="13.9" lengthAdjust="spacingAndGlyphs" fill="#000">10 g/L</text>
<text x="373.5" y="41.8" font-size="5.6" text-anchor="middle" textLength="17" lengthAdjust="spacingAndGlyphs" fill="#000">Control</text>
<text x="394.45" y="41.8" font-size="5.6" text-anchor="middle" textLength="15.1" lengthAdjust="spacingAndGlyphs" fill="#000">2.5 g/L</text>
<text x="413.2" y="41.8" font-size="5.6" text-anchor="middle" textLength="11.6" lengthAdjust="spacingAndGlyphs" fill="#000">5 g/L</text>
<text x="431.29999999999995" y="41.8" font-size="5.6" text-anchor="middle" textLength="14.8" lengthAdjust="spacingAndGlyphs" fill="#000">10 g/L</text>
<text x="268.79999999999995" y="56.4" font-size="5.6" text-anchor="middle" textLength="12.2" lengthAdjust="spacingAndGlyphs" fill="#000">iWAT</text>
<text x="269.2" y="83.8" font-size="5.6" text-anchor="middle" textLength="14.0" lengthAdjust="spacingAndGlyphs" fill="#000">gWAT</text>
<text x="267.95000000000005" y="104.8" font-size="5.6" text-anchor="middle" textLength="9.7" lengthAdjust="spacingAndGlyphs" fill="#000">BAT</text>
<text x="449.8" y="57.0" font-size="5.6" text-anchor="start" textLength="16.2" lengthAdjust="spacingAndGlyphs" fill="#000">26 kDa</text>
<text x="449.8" y="82.1" font-size="5.6" text-anchor="start" textLength="16.2" lengthAdjust="spacingAndGlyphs" fill="#000">26 kDa</text>
<text x="449.8" y="103.39999999999999" font-size="5.6" text-anchor="start" textLength="16.2" lengthAdjust="spacingAndGlyphs" fill="#000">26 kDa</text>
<text x="449.8" y="123.3" font-size="5.6" text-anchor="start" textLength="21.2" lengthAdjust="spacingAndGlyphs" fill="#000">Ponceau</text>
<rect x="285.60" y="43.10" width="70.70" height="19.70" fill="#f3f3f3" stroke="#8a8a8a" stroke-width="0.8"/>
<rect x="289.40" y="51.05" width="12.00" height="2.10" rx="1.05" fill="#000" opacity="0.23" filter="url(#bl)"/>
<rect x="306.75" y="50.70" width="12.50" height="2.20" rx="1.10" fill="#000" opacity="0.35" filter="url(#bl)"/>
<rect x="324.00" y="50.15" width="12.80" height="2.30" rx="1.15" fill="#000" opacity="0.52" filter="url(#bl)"/>
<rect x="340.95" y="50.05" width="11.50" height="2.50" rx="1.25" fill="#000" opacity="0.75" filter="url(#bl)"/>
<rect x="285.60" y="65.80" width="70.70" height="19.80" fill="#c3c3c3" stroke="#8a8a8a" stroke-width="0.8"/>
<rect x="289.30" y="75.15" width="14.00" height="2.90" rx="1.45" fill="#000" opacity="1.00" filter="url(#bl)"/>
<rect x="307.60" y="74.55" width="12.40" height="2.50" rx="1.25" fill="#000" opacity="0.90" filter="url(#bl)"/>
<rect x="324.90" y="74.05" width="11.20" height="2.50" rx="1.25" fill="#000" opacity="0.90" filter="url(#bl)"/>
<rect x="340.85" y="73.55" width="11.70" height="2.70" rx="1.35" fill="#000" opacity="1.00" filter="url(#bl)"/>
<rect x="285.60" y="88.80" width="70.70" height="19.40" fill="#dcdcdc" stroke="#8a8a8a" stroke-width="0.8"/>
<rect x="290.00" y="98.15" width="12.00" height="2.90" rx="1.45" fill="#000" opacity="1.00" filter="url(#bl)"/>
<rect x="305.60" y="97.85" width="12.80" height="3.90" rx="1.95" fill="#000" opacity="1.00" filter="url(#bl)"/>
<rect x="322.20" y="97.95" width="12.80" height="3.90" rx="1.95" fill="#000" opacity="1.00" filter="url(#bl)"/>
<rect x="340.10" y="98.25" width="11.00" height="3.10" rx="1.55" fill="#000" opacity="1.00" filter="url(#bl)"/>
<rect x="291.00" y="104.05" width="10.00" height="1.70" rx="0.85" fill="#000" opacity="0.17" filter="url(#bl)"/>
<rect x="306.50" y="104.05" width="11.00" height="1.70" rx="0.85" fill="#000" opacity="0.17" filter="url(#bl)"/>
<rect x="323.10" y="104.15" width="11.00" height="1.70" rx="0.85" fill="#000" opacity="0.12" filter="url(#bl)"/>
<rect x="340.60" y="104.15" width="10.00" height="1.70" rx="0.85" fill="#000" opacity="0.09" filter="url(#bl)"/>
<rect x="285.60" y="111.60" width="70.70" height="19.70" fill="#c8c8c8" stroke="#8a8a8a" stroke-width="0.8"/>
<rect x="290.00" y="117.35" width="12.00" height="2.10" rx="1.05" fill="#000" opacity="0.17" filter="url(#bl)"/>
<rect x="307.00" y="117.55" width="12.00" height="2.10" rx="1.05" fill="#000" opacity="0.14" filter="url(#bl)"/>
<rect x="324.00" y="118.15" width="12.00" height="2.10" rx="1.05" fill="#000" opacity="0.20" filter="url(#bl)"/>
<rect x="341.00" y="120.55" width="12.00" height="1.90" rx="0.95" fill="#000" opacity="0.12" filter="url(#bl)"/>
<rect x="290.00" y="121.25" width="12.00" height="4.50" rx="2.25" fill="#000" opacity="0.07" filter="url(#bl2)"/>
<rect x="307.00" y="121.25" width="12.00" height="4.50" rx="2.25" fill="#000" opacity="0.07" filter="url(#bl2)"/>
<rect x="324.00" y="122.25" width="12.00" height="4.50" rx="2.25" fill="#000" opacity="0.10" filter="url(#bl2)"/>
<rect x="341.00" y="123.25" width="12.00" height="4.50" rx="2.25" fill="#000" opacity="0.07" filter="url(#bl2)"/>
<rect x="366.80" y="43.10" width="70.50" height="19.70" fill="#f3f3f3" stroke="#8a8a8a" stroke-width="0.8"/>
<rect x="371.60" y="53.85" width="11.60" height="2.50" rx="1.25" fill="#000" opacity="0.72" filter="url(#bl)"/>
<rect x="388.55" y="52.85" width="11.10" height="2.10" rx="1.05" fill="#000" opacity="0.32" filter="url(#bl)"/>
<rect x="404.55" y="51.65" width="11.70" height="2.30" rx="1.15" fill="#000" opacity="0.65" filter="url(#bl)"/>
<rect x="421.25" y="50.75" width="13.10" height="2.30" rx="1.15" fill="#000" opacity="0.65" filter="url(#bl)"/>
<rect x="366.80" y="65.80" width="70.50" height="19.80" fill="#c3c3c3" stroke="#8a8a8a" stroke-width="0.8"/>
<rect x="369.20" y="73.75" width="12.40" height="2.70" rx="1.35" fill="#000" opacity="1.00" filter="url(#bl)"/>
<rect x="386.45" y="73.15" width="11.70" height="2.90" rx="1.45" fill="#000" opacity="1.00" filter="url(#bl)"/>
<rect x="403.85" y="73.05" width="12.30" height="2.50" rx="1.25" fill="#000" opacity="1.00" filter="url(#bl)"/>
<rect x="421.30" y="73.35" width="12.40" height="3.30" rx="1.65" fill="#000" opacity="1.00" filter="url(#bl)"/>
<rect x="369.50" y="79.05" width="11.00" height="1.90" rx="0.95" fill="#000" opacity="0.07" filter="url(#bl)"/>
<rect x="386.50" y="79.05" width="11.00" height="1.90" rx="0.95" fill="#000" opacity="0.07" filter="url(#bl)"/>
<rect x="404.50" y="79.05" width="11.00" height="1.90" rx="0.95" fill="#000" opacity="0.06" filter="url(#bl)"/>
<rect x="422.00" y="79.05" width="11.00" height="1.90" rx="0.95" fill="#000" opacity="0.07" filter="url(#bl)"/>
<rect x="366.80" y="88.80" width="70.50" height="19.40" fill="#dcdcdc" stroke="#8a8a8a" stroke-width="0.8"/>
<rect x="370.75" y="96.25" width="12.30" height="3.10" rx="1.55" fill="#000" opacity="1.00" filter="url(#bl)"/>
<rect x="387.40" y="96.85" width="12.40" height="3.30" rx="1.65" fill="#000" opacity="1.00" filter="url(#bl)"/>
<rect x="403.90" y="97.15" width="11.60" height="2.70" rx="1.35" fill="#000" opacity="1.00" filter="url(#bl)"/>
<rect x="420.35" y="98.95" width="12.30" height="2.90" rx="1.45" fill="#000" opacity="1.00" filter="url(#bl)"/>
<rect x="371.90" y="103.85" width="10.00" height="1.70" rx="0.85" fill="#000" opacity="0.20" filter="url(#bl)"/>
<rect x="388.60" y="104.00" width="10.00" height="1.80" rx="0.90" fill="#000" opacity="0.29" filter="url(#bl)"/>
<rect x="405.20" y="104.15" width="9.00" height="1.70" rx="0.85" fill="#000" opacity="0.10" filter="url(#bl)"/>
<rect x="366.80" y="111.60" width="70.50" height="19.70" fill="#c8c8c8" stroke="#8a8a8a" stroke-width="0.8"/>
<rect x="371.00" y="119.35" width="12.00" height="2.10" rx="1.05" fill="#000" opacity="0.14" filter="url(#bl)"/>
<rect x="387.50" y="118.75" width="12.00" height="2.10" rx="1.05" fill="#000" opacity="0.17" filter="url(#bl)"/>
<rect x="404.00" y="119.45" width="12.00" height="2.10" rx="1.05" fill="#000" opacity="0.12" filter="url(#bl)"/>
<rect x="421.00" y="118.15" width="12.00" height="2.10" rx="1.05" fill="#000" opacity="0.17" filter="url(#bl)"/>
<rect x="387.50" y="122.75" width="12.00" height="4.50" rx="2.25" fill="#000" opacity="0.07" filter="url(#bl2)"/>
<rect x="385" y="129.5" width="4" height="1.6" fill="#fff" opacity="0.9"/>
<text x="319" y="173.3" font-size="5.6" text-anchor="middle" textLength="17.6" lengthAdjust="spacingAndGlyphs" fill="#000">Females</text>
<text x="393.4" y="172.6" font-size="5.6" text-anchor="middle" textLength="12.7" lengthAdjust="spacingAndGlyphs" fill="#000">Males</text>
<path d="M284.4 178.4 V176.5 H353.6 V178.4" fill="none" stroke="#333" stroke-width="0.8"/>
<path d="M358.7 178.1 V176.2 H427.6 V178.1" fill="none" stroke="#333" stroke-width="0.8"/>
<text x="293.0" y="185.7" font-size="5.6" text-anchor="middle" textLength="16" lengthAdjust="spacingAndGlyphs" fill="#000">Control</text>
<text x="313.0" y="185.7" font-size="5.6" text-anchor="middle" textLength="14.6" lengthAdjust="spacingAndGlyphs" fill="#000">2.5 g/L</text>
<text x="330.35" y="185.7" font-size="5.6" text-anchor="middle" textLength="10.7" lengthAdjust="spacingAndGlyphs" fill="#000">5 g/L</text>
<text x="345.95" y="185.7" font-size="5.6" text-anchor="middle" textLength="13.5" lengthAdjust="spacingAndGlyphs" fill="#000">10 g/L</text>
<text x="367.25" y="185.7" font-size="5.6" text-anchor="middle" textLength="15.7" lengthAdjust="spacingAndGlyphs" fill="#000">Control</text>
<text x="387.4" y="185.7" font-size="5.6" text-anchor="middle" textLength="14.8" lengthAdjust="spacingAndGlyphs" fill="#000">2.5 g/L</text>
<text x="404.4" y="185.7" font-size="5.6" text-anchor="middle" textLength="10.8" lengthAdjust="spacingAndGlyphs" fill="#000">5 g/L</text>
<text x="421.5" y="185.7" font-size="5.6" text-anchor="middle" textLength="12.6" lengthAdjust="spacingAndGlyphs" fill="#000">10 g/L</text>
<text x="269.7" y="199.5" font-size="5.6" text-anchor="middle" textLength="11.4" lengthAdjust="spacingAndGlyphs" fill="#000">iWAT</text>
<text x="270.65" y="229.0" font-size="5.6" text-anchor="middle" textLength="13.3" lengthAdjust="spacingAndGlyphs" fill="#000">gWAT</text>
<text x="269.15" y="248.2" font-size="5.6" text-anchor="middle" textLength="8.9" lengthAdjust="spacingAndGlyphs" fill="#000">BAT</text>
<text x="442.2" y="199.4" font-size="5.6" text-anchor="start" textLength="15.9" lengthAdjust="spacingAndGlyphs" fill="#000">43 kDa</text>
<text x="442.2" y="228.7" font-size="5.6" text-anchor="start" textLength="15.9" lengthAdjust="spacingAndGlyphs" fill="#000">43 kDa</text>
<text x="442.2" y="248.4" font-size="5.6" text-anchor="start" textLength="15.9" lengthAdjust="spacingAndGlyphs" fill="#000">43 kDa</text>
<text x="443" y="273.6" font-size="5.6" text-anchor="start" textLength="18.7" lengthAdjust="spacingAndGlyphs" fill="#000">Ponceau</text>
<rect x="283.70" y="189.70" width="70.30" height="20.30" fill="#f5f5f5" stroke="#8a8a8a" stroke-width="0.8"/>
<rect x="287.70" y="198.05" width="11.00" height="1.70" rx="0.85" fill="#000" opacity="0.41" filter="url(#bl)"/>
<rect x="304.40" y="198.01" width="12.00" height="2.58" rx="1.29" fill="#000" opacity="1.00" filter="url(#bl)"/>
<rect x="320.75" y="198.33" width="12.50" height="1.94" rx="0.97" fill="#000" opacity="0.51" filter="url(#bl)"/>
<rect x="338.25" y="197.93" width="11.50" height="2.74" rx="1.37" fill="#000" opacity="1.00" filter="url(#bl)"/>
<rect x="287.50" y="190.11" width="11.00" height="1.78" rx="0.89" fill="#000" opacity="0.17" filter="url(#bl)"/>
<rect x="304.50" y="190.19" width="11.00" height="1.62" rx="0.81" fill="#000" opacity="0.10" filter="url(#bl)"/>
<rect x="321.50" y="190.19" width="11.00" height="1.62" rx="0.81" fill="#000" opacity="0.12" filter="url(#bl)"/>
<rect x="338.50" y="190.19" width="11.00" height="1.62" rx="0.81" fill="#000" opacity="0.10" filter="url(#bl)"/>
<rect x="287.50" y="193.55" width="11.00" height="1.30" rx="0.65" fill="#000" opacity="0.10" filter="url(#bl)"/>
<rect x="338.50" y="193.55" width="11.00" height="1.30" rx="0.65" fill="#000" opacity="0.07" filter="url(#bl)"/>
<rect x="283.70" y="212.40" width="70.30" height="19.90" fill="#dbdbdb" stroke="#8a8a8a" stroke-width="0.8"/>
<rect x="289.00" y="221.43" width="10.40" height="1.94" rx="0.97" fill="#000" opacity="0.52" filter="url(#bl)"/>
<rect x="305.25" y="221.51" width="10.30" height="1.78" rx="0.89" fill="#000" opacity="0.35" filter="url(#bl)"/>
<rect x="322.15" y="221.79" width="10.30" height="1.62" rx="0.81" fill="#000" opacity="0.12" filter="url(#bl)"/>
<rect x="339.20" y="214.91" width="11.00" height="2.58" rx="1.29" fill="#000" opacity="0.38" filter="url(#bl)"/>
<rect x="339.70" y="223.39" width="10.00" height="1.62" rx="0.81" fill="#000" opacity="0.23" filter="url(#bl)"/>
<rect x="289.00" y="213.95" width="10.00" height="2.10" rx="1.05" fill="#000" opacity="0.07" filter="url(#bl)"/>
<rect x="305.00" y="213.95" width="10.00" height="2.10" rx="1.05" fill="#000" opacity="0.06" filter="url(#bl)"/>
<rect x="283.70" y="234.30" width="70.30" height="19.50" fill="#e1e1e1" stroke="#8a8a8a" stroke-width="0.8"/>
<rect x="286.75" y="241.79" width="13.30" height="1.62" rx="0.81" fill="#000" opacity="0.52" filter="url(#bl)"/>
<rect x="304.20" y="241.79" width="12.40" height="1.62" rx="0.81" fill="#000" opacity="0.32" filter="url(#bl)"/>
<rect x="321.05" y="242.41" width="13.70" height="1.78" rx="0.89" fill="#000" opacity="0.65" filter="url(#bl)"/>
<rect x="321.50" y="247.53" width="12.00" height="1.94" rx="0.97" fill="#000" opacity="0.72" filter="url(#bl)"/>
<rect x="339.15" y="241.63" width="12.50" height="1.94" rx="0.97" fill="#000" opacity="0.70" filter="url(#bl)"/>
<rect x="288.40" y="246.47" width="10.00" height="1.46" rx="0.73" fill="#000" opacity="0.12" filter="url(#bl)"/>
<rect x="283.70" y="255.50" width="70.30" height="23.30" fill="#c9c9c9" stroke="#8a8a8a" stroke-width="0.8"/>
<rect x="287.00" y="262.41" width="12.00" height="1.78" rx="0.89" fill="#000" opacity="0.14" filter="url(#bl)"/>
<rect x="304.00" y="262.41" width="12.00" height="1.78" rx="0.89" fill="#000" opacity="0.12" filter="url(#bl)"/>
<rect x="321.00" y="262.61" width="12.00" height="1.78" rx="0.89" fill="#000" opacity="0.12" filter="url(#bl)"/>
<rect x="338.00" y="262.61" width="12.00" height="1.78" rx="0.89" fill="#000" opacity="0.10" filter="url(#bl)"/>
<rect x="283.6" y="266.5" width="1.2" height="2.5" fill="#333" opacity="0.6"/>
<rect x="359.80" y="189.70" width="70.40" height="20.30" fill="#f5f5f5" stroke="#8a8a8a" stroke-width="0.8"/>
<rect x="364.55" y="196.55" width="10.50" height="1.70" rx="0.85" fill="#000" opacity="0.43" filter="url(#bl)"/>
<rect x="379.65" y="196.75" width="12.70" height="1.70" rx="0.85" fill="#000" opacity="0.36" filter="url(#bl)"/>
<rect x="397.85" y="196.71" width="10.30" height="2.58" rx="1.29" fill="#000" opacity="1.00" filter="url(#bl)"/>
<rect x="412.55" y="197.53" width="13.10" height="1.94" rx="0.97" fill="#000" opacity="0.72" filter="url(#bl)"/>
<rect x="364.80" y="190.11" width="10.00" height="1.78" rx="0.89" fill="#000" opacity="0.12" filter="url(#bl)"/>
<rect x="381.00" y="190.11" width="10.00" height="1.78" rx="0.89" fill="#000" opacity="0.09" filter="url(#bl)"/>
<rect x="398.00" y="190.61" width="10.00" height="1.78" rx="0.89" fill="#000" opacity="0.10" filter="url(#bl)"/>
<rect x="414.10" y="190.61" width="10.00" height="1.78" rx="0.89" fill="#000" opacity="0.07" filter="url(#bl)"/>
<rect x="359.80" y="212.40" width="70.40" height="19.90" fill="#d7d7d7" stroke="#8a8a8a" stroke-width="0.8"/>
<rect x="362.05" y="218.47" width="12.30" height="2.26" rx="1.13" fill="#000" opacity="0.80" filter="url(#bl)"/>
<rect x="379.35" y="212.39" width="10.30" height="2.42" rx="1.21" fill="#000" opacity="0.90" filter="url(#bl)"/>
<rect x="379.35" y="219.93" width="10.30" height="1.94" rx="0.97" fill="#000" opacity="0.58" filter="url(#bl)"/>
<rect x="395.10" y="220.09" width="11.60" height="1.62" rx="0.81" fill="#000" opacity="0.22" filter="url(#bl)"/>
<rect x="413.60" y="221.49" width="10.80" height="1.62" rx="0.81" fill="#000" opacity="0.17" filter="url(#bl)"/>
<rect x="362.00" y="213.35" width="12.00" height="2.90" rx="1.45" fill="#000" opacity="0.29" filter="url(#bl)"/>
<rect x="363.00" y="225.15" width="10.00" height="1.70" rx="0.85" fill="#000" opacity="0.10" filter="url(#bl)"/>
<rect x="359.80" y="234.30" width="70.40" height="19.50" fill="#eaeaea" stroke="#8a8a8a" stroke-width="0.8"/>
<rect x="363.55" y="242.47" width="12.30" height="1.46" rx="0.73" fill="#000" opacity="0.32" filter="url(#bl)"/>
<rect x="363.55" y="247.79" width="12.30" height="1.62" rx="0.81" fill="#000" opacity="0.49" filter="url(#bl)"/>
<rect x="379.65" y="242.23" width="13.10" height="1.94" rx="0.97" fill="#000" opacity="0.87" filter="url(#bl)"/>
<rect x="396.65" y="241.77" width="13.90" height="1.46" rx="0.73" fill="#000" opacity="0.29" filter="url(#bl)"/>
<rect x="413.55" y="242.23" width="13.90" height="1.94" rx="0.97" fill="#000" opacity="0.84" filter="url(#bl)"/>
<rect x="359.80" y="255.50" width="69.60" height="23.80" fill="#c3c3c3" stroke="#8a8a8a" stroke-width="0.8"/>
<rect x="363.00" y="261.41" width="12.00" height="1.78" rx="0.89" fill="#000" opacity="0.12" filter="url(#bl)"/>
<rect x="380.00" y="261.41" width="12.00" height="1.78" rx="0.89" fill="#000" opacity="0.14" filter="url(#bl)"/>
<rect x="397.00" y="261.11" width="12.00" height="1.78" rx="0.89" fill="#000" opacity="0.12" filter="url(#bl)"/>
<rect x="414.00" y="261.61" width="12.00" height="1.78" rx="0.89" fill="#000" opacity="0.12" filter="url(#bl)"/>
<rect x="381.00" y="275.39" width="10.00" height="1.62" rx="0.81" fill="#000" opacity="0.14" filter="url(#bl)"/>
<rect x="415.00" y="275.39" width="10.00" height="1.62" rx="0.81" fill="#000" opacity="0.17" filter="url(#bl)"/>
</g></svg>
</body></html>
